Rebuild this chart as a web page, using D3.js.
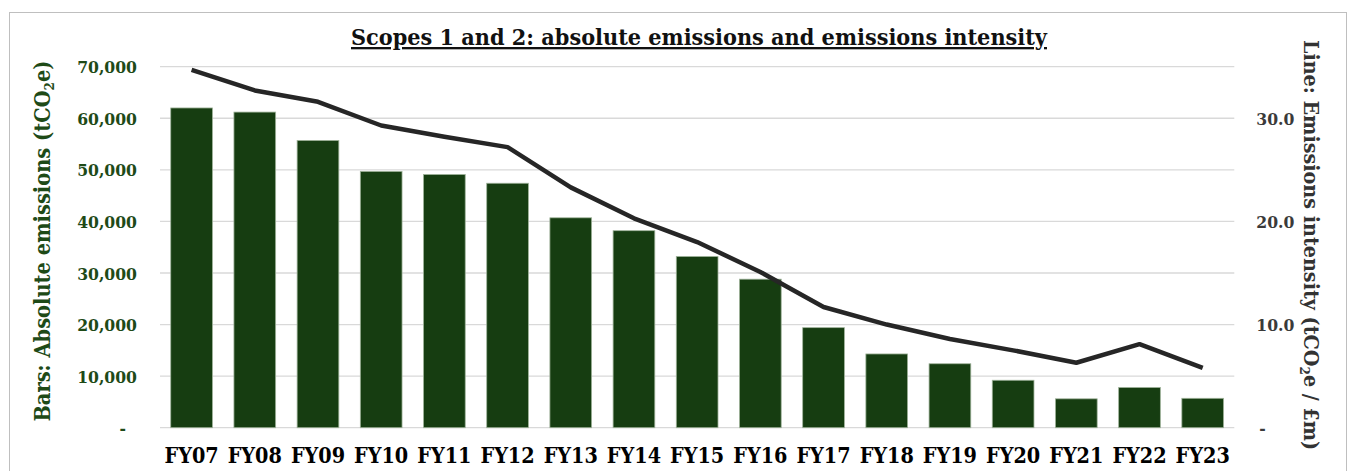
<!DOCTYPE html>
<html>
<head>
<meta charset="utf-8">
<script src="https://cdn.jsdelivr.net/npm/d3@7"></script>
<style>
  html, body { margin: 0; padding: 0; background: #fff; }
  svg { display: block; }
  text { font-family: "DejaVu Serif", serif; font-weight: bold; font-stretch: condensed; }
</style>
</head>
<body>
<svg id="chart" width="1351" height="471"></svg>
<script>
const categories = ["FY07","FY08","FY09","FY10","FY11","FY12","FY13","FY14","FY15","FY16","FY17","FY18","FY19","FY20","FY21","FY22","FY23"];
const absoluteEmissions = [62000, 61200, 55700, 49700, 49100, 47400, 40700, 38200, 33200, 28800, 19400, 14300, 12400, 9200, 5600, 7800, 5700];
const emissionsIntensity = [34.7, 32.7, 31.6, 29.3, 28.2, 27.2, 23.3, 20.3, 18.0, 15.1, 11.7, 10.0, 8.6, 7.5, 6.3, 8.1, 5.8];
const leftTicks = [0, 10000, 20000, 30000, 40000, 50000, 60000, 70000];
const rightTicks = [0, 10, 20, 30];
const titleText = "Scopes 1 and 2: absolute emissions and emissions intensity";

const svg = d3.select("#chart");
const plotLeft = 160, plotRight = 1234.3, plotTop = 66.7, plotBottom = 427.7;

// outer border
svg.append("rect").attr("x", 9.5).attr("y", 12.5).attr("width", 1337).attr("height", 480)
  .attr("fill", "none").attr("stroke", "#bfbfbf").attr("stroke-width", 1);

const x = d3.scaleBand().domain(categories).range([plotLeft, plotRight]).paddingInner(0.34).paddingOuter(0.17);
const yL = d3.scaleLinear().domain([0, 70000]).range([plotBottom, plotTop]);
const yR = d3.scaleLinear().domain([0, 35]).range([plotBottom, plotTop]);

// gridlines
svg.append("g").selectAll("line").data(leftTicks).join("line")
  .attr("x1", plotLeft).attr("x2", plotRight)
  .attr("y1", d => yL(d)).attr("y2", d => yL(d))
  .attr("stroke", "#d9d9d9").attr("stroke-width", 1.3);

// left axis
const fmtL = d => d === 0 ? "-" : d3.format(",")(d);
const axL = svg.append("g").attr("transform", `translate(${plotLeft - 23},0)`)
  .call(d3.axisLeft(yL).tickValues(leftTicks).tickFormat(fmtL).tickSize(0).tickPadding(0));
axL.select(".domain").remove();
axL.selectAll("text").attr("fill", "#1e4a17").style("font-size", "17.4px")
  .attr("dy", "0.35em").attr("dx", d => d === 0 ? -11 : 0);

// right axis
const fmtR = d => d === 0 ? "-" : d3.format(".1f")(d);
const axR = svg.append("g").attr("transform", `translate(${plotRight + 22},0)`)
  .call(d3.axisRight(yR).tickValues(rightTicks).tickFormat(fmtR).tickSize(0).tickPadding(0));
axR.select(".domain").remove();
axR.selectAll("text").attr("fill", "#3a3a3a").style("font-size", "17.4px")
  .attr("dy", "0.35em").attr("dx", d => d === 0 ? 3 : 0);

// bars
svg.append("g").selectAll("rect").data(categories).join("rect")
  .attr("x", d => x(d)).attr("width", x.bandwidth())
  .attr("y", (d, i) => yL(absoluteEmissions[i]))
  .attr("height", (d, i) => yL(0) - yL(absoluteEmissions[i]))
  .attr("fill", "#163d11").attr("stroke", "#9fb39a").attr("stroke-width", 0.8);

// line
const line = d3.line().x((d, i) => x(categories[i]) + x.bandwidth() / 2).y(d => yR(d));
svg.append("path").datum(emissionsIntensity).attr("d", line)
  .attr("fill", "none").attr("stroke", "#262626").attr("stroke-width", 4.5)
  .attr("stroke-linejoin", "round").attr("stroke-linecap", "butt");

// x axis labels
const axX = svg.append("g").attr("transform", `translate(0,${plotBottom})`)
  .call(d3.axisBottom(x).tickSize(0).tickPadding(0));
axX.select(".domain").remove();
axX.selectAll("text").attr("fill", "#000").style("font-size", "21.4px").attr("dy", "35px").attr("y", 0);

// title
svg.append("text").attr("x", 699).attr("y", 45).attr("text-anchor", "middle")
  .style("font-size", "23.2px").style("text-decoration", "underline").attr("fill", "#111")
  .text(titleText);

// left axis title (bottom to top)
const lt = svg.append("text").attr("transform", `translate(50,241) rotate(-90)`)
  .attr("text-anchor", "middle").attr("fill", "#1e4a17").style("font-size", "21.6px");
lt.append("tspan").text("Bars: Absolute emissions (tCO");
lt.append("tspan").text("2").style("font-size", "13.5px").attr("dy", "4");
lt.append("tspan").text("e)").attr("dy", "-4");

// right axis title (top to bottom)
const rt = svg.append("text").attr("transform", `translate(1304,245) rotate(90)`)
  .attr("text-anchor", "middle").attr("fill", "#333").style("font-size", "21.3px");
rt.append("tspan").text("Line: Emissions intensity (tCO");
rt.append("tspan").text("2").style("font-size", "13.5px").attr("dy", "4");
rt.append("tspan").text("e / £m)").attr("dy", "-4");
</script>
</body>
</html>
